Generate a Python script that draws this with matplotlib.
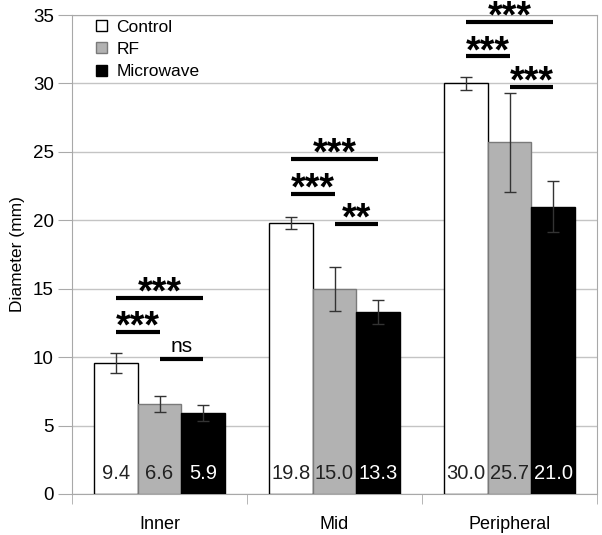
import numpy as np
import matplotlib.pyplot as plt

plt.rcParams['font.family'] = ['Liberation Sans', 'DejaVu Sans']

categories = ["Inner", "Mid", "Peripheral"]
series = ["Control", "RF", "Microwave"]

control = [9.55, 19.8, 30.0]
rf = [6.6, 15.0, 25.7]
microwave = [5.9, 13.3, 21.0]

control_err = [0.73, 0.44, 0.49]
rf_err = [0.58, 1.6, 3.6]
microwave_err = [0.6, 0.88, 1.86]

control_lbl = ["9.4", "19.8", "30.0"]
rf_lbl = ["6.6", "15.0", "25.7"]
microwave_lbl = ["5.9", "13.3", "21.0"]

# significance: (category, bar a, bar b, height, text)
sig = [
    (0, 0, 2, 14.35, "***"), (0, 0, 1, 11.87, "***"), (0, 1, 2, 9.88, "ns"),
    (1, 0, 2, 24.46, "***"), (1, 0, 1, 21.93, "***"), (1, 1, 2, 19.71, "**"),
    (2, 0, 2, 34.5, "***"), (2, 0, 1, 31.97, "***"), (2, 1, 2, 29.77, "***"),
]

fig = plt.figure(figsize=(6.02, 5.35), dpi=100)
ax = fig.add_axes([72 / 602, 41 / 535, 525 / 602, 479 / 535])

x = np.arange(len(categories))
w = 0.25
vals = [control, rf, microwave]
errs = [control_err, rf_err, microwave_err]
lbls = [control_lbl, rf_lbl, microwave_lbl]
faces = ["white", "#b2b2b2", "black"]
edges = ["black", "#7a7a7a", "black"]
txtc = ["#222222", "#222222", "white"]

for k in range(3):
    xs = x + (k - 1) * w
    ax.bar(xs, vals[k], w, color=faces[k], edgecolor=edges[k], linewidth=1,
           label=series[k], zorder=3)
    ax.errorbar(xs, vals[k], yerr=errs[k], fmt="none", ecolor="#333333",
                elinewidth=1, capsize=4.5, capthick=1, zorder=4)
    for xi, t in zip(xs, lbls[k]):
        ax.text(xi, 1.07, t, ha="center", va="baseline", fontsize=14.5,
                color=txtc[k], zorder=5)

for c, a, b, y, t in sig:
    xa = x[c] + (a - 1) * w
    xb = x[c] + (b - 1) * w
    ax.plot([xa, xb], [y, y], color="black", lw=3, solid_capstyle="butt",
            clip_on=False, zorder=5)
    if t == "ns":
        ax.annotate(t, xy=((xa + xb) / 2, y), xytext=(0, 5), textcoords="offset points",
                    ha="center", va="baseline", fontsize=15, annotation_clip=False)
    else:
        ax.annotate(t, xy=((xa + xb) / 2, y), xytext=(0, -4), textcoords="offset points",
                    ha="center", va="baseline", fontsize=27, fontweight="bold",
                    annotation_clip=False)

ax.set_xlim(-0.5, 2.5)
ax.set_ylim(0, 35)
ax.set_yticks(range(0, 36, 5))
ax.yaxis.grid(True, color="#c4c4c4", lw=1, zorder=0)
ax.set_xticks(x)
ax.set_xticklabels(categories, fontsize=13)
ax.set_xticks([-0.5, 0.5, 1.5, 2.5], minor=True)
ax.tick_params(axis="x", which="major", length=0, pad=16)
ax.tick_params(axis="x", which="minor", length=7, color="#aaaaaa")
ax.tick_params(axis="y", length=10, color="#aaaaaa", labelsize=13.5, pad=3)
for s in ax.spines.values():
    s.set_color("#a8a8a8")
ax.set_ylabel("Diameter (mm)", fontsize=12.5, labelpad=6)

ax.legend(loc="upper left", bbox_to_anchor=(0.033, 1.005), frameon=False, fontsize=12.5,
          handlelength=0.6, handleheight=0.6, handletextpad=0.55, labelspacing=0.42,
          borderaxespad=0)

fig.savefig("out.png", dpi=100)
